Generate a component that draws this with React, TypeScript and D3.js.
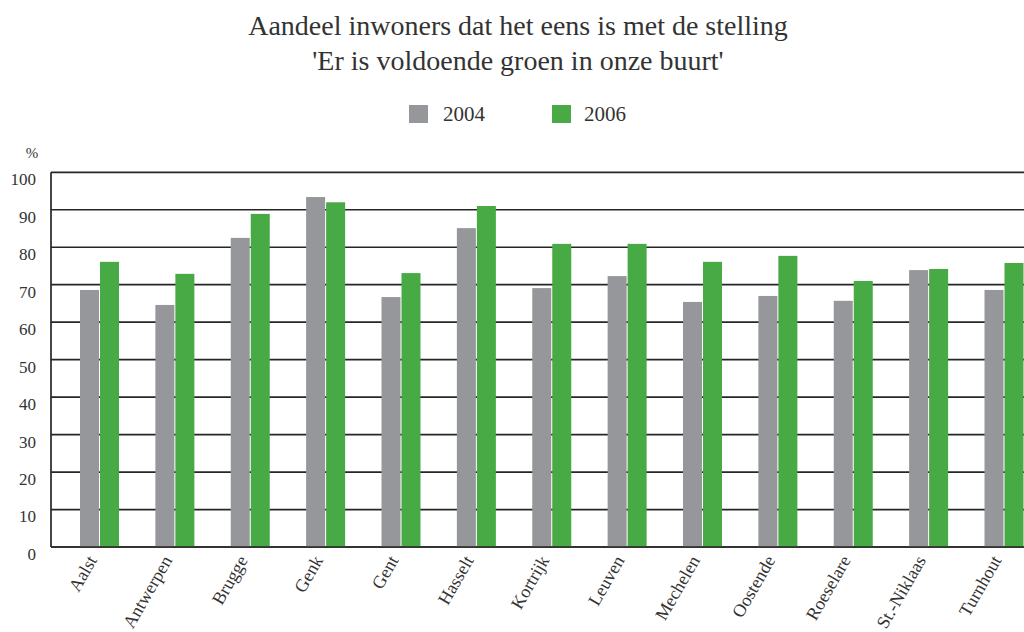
import React from "react";
import * as d3 from "d3";

const categories = ["Aalst", "Antwerpen", "Brugge", "Genk", "Gent", "Hasselt", "Kortrijk", "Leuven", "Mechelen", "Oostende", "Roeselare", "St.-Niklaas", "Turnhout"];
const values2004 = [68.6, 64.6, 82.5, 93.4, 66.7, 85.1, 69.1, 72.3, 65.4, 67.0, 65.7, 73.9, 68.6];
const values2006 = [76.1, 72.9, 88.9, 92.0, 73.1, 91.0, 80.9, 80.9, 76.1, 77.7, 71.0, 74.2, 75.8];
const yTicks = [0, 10, 20, 30, 40, 50, 60, 70, 80, 90, 100];
const seriesNames = ["2004", "2006"];
const titleLines = ["Aandeel inwoners dat het eens is met de stelling", "'Er is voldoende groen in onze buurt'"];

const W = 1024, H = 632;
const GRAY = "#96979b";
const GREEN = "#48aa44";
const TEXT = "#333";
const FONT = "Liberation Serif";
const ts = { fontFamily: FONT };

export default function App() {
  const axisLeft = 51;
  const step = 75.375;
  const x = d3.scaleBand<string>()
    .domain(categories)
    .range([100 - step / 2, 100 - step / 2 + step * categories.length])
    .padding(0);
  const y = d3.scaleLinear().domain([0, 100]).range([547, 172.3]);
  const barW = 19;

  return (
    <svg width={W} height={H} style={{ position: "absolute", left: 0, top: 0, background: "#fff" }}>
      {titleLines.map((t, i) => (
        <text key={i} x={518} y={35 + i * 35} textAnchor="middle" fontSize={28} fill={TEXT} style={ts}>{t}</text>
      ))}
      <rect x={409} y={105} width={19} height={18} fill={GRAY} />
      <text x={443} y={121} fontSize={21} fill={TEXT} style={ts}>{seriesNames[0]}</text>
      <rect x={552} y={105} width={19} height={18} fill={GREEN} />
      <text x={584} y={121} fontSize={21} fill={TEXT} style={ts}>{seriesNames[1]}</text>

      <text x={32} y={158} textAnchor="middle" fontSize={15} fill={TEXT} style={ts}>%</text>

      {yTicks.map((t) => (
        <g key={t}>
          <line x1={axisLeft} x2={W} y1={y(t)} y2={y(t)} stroke="#262626" strokeWidth={1.7} />
          <text x={36} y={y(t) + 7} dy="0.35em" textAnchor="end" fontSize={17} fill={TEXT} style={ts}>{t}</text>
        </g>
      ))}
      <line x1={axisLeft} x2={axisLeft} y1={y(100)} y2={y(0)} stroke="#262626" strokeWidth={1.7} />

      {categories.map((c, i) => {
        const cx = (x(c) as number) + x.bandwidth() / 2;
        return (
          <g key={c}>
            <rect x={cx - 20} y={y(values2004[i])} width={barW} height={y(0) - y(values2004[i])} fill={GRAY} />
            <rect x={cx} y={y(values2006[i])} width={barW} height={y(0) - y(values2006[i])} fill={GREEN} />
          </g>
        );
      })}
      <line x1={axisLeft} x2={W} y1={y(0)} y2={y(0)} stroke="#262626" strokeWidth={1.7} />

      {categories.map((c) => {
        const cx = (x(c) as number) + x.bandwidth() / 2;
        return (
          <text key={c} transform={`translate(${cx - 8},${557}) rotate(-60)`} textAnchor="end" dy="0.35em" fontSize={18} fill={TEXT} style={ts}>{c}</text>
        );
      })}
    </svg>
  );
}
